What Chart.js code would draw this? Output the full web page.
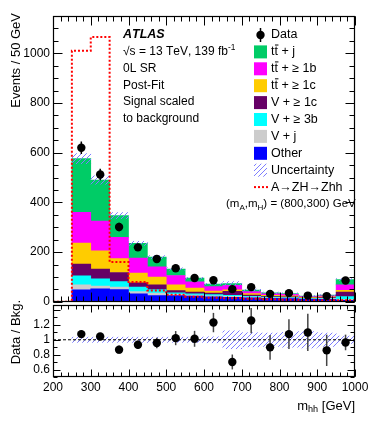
<!DOCTYPE html>
<html>
<head>
<meta charset="utf-8">
<style>
  html, body { margin: 0; padding: 0; background: #fff; }
  #wrap { position: relative; width: 374px; height: 421px; overflow: hidden; }
  canvas { position: absolute; left: 0; }
  #cMain { top: 0; }
  #cRatio { top: 290px; }
</style>
<script src="https://cdn.jsdelivr.net/npm/chart.js@4.4.1/dist/chart.umd.min.js"></script>
</head>
<body>
<div id="wrap">
  <canvas id="cMain" width="374" height="312"></canvas>
  <canvas id="cRatio" width="374" height="131"></canvas>
</div>
<script>
// m_hh bin centres (50 GeV bins from 250 to 1000 GeV)
const massBins = [275, 325, 375, 425, 475, 525, 575, 625, 675, 725, 775, 825, 875, 925, 975];

// post-fit background components, events / 50 GeV
const bkgOther = [48, 52, 49, 32, 25, 25, 23, 20, 18, 16, 14, 13, 10, 10, 6];
const bkgVj    = [20, 11, 10, 9, 10, 5, 4, 4, 4, 3, 2, 2, 1, 2, 3];
const bkgV3b   = [36, 29, 22, 18, 14, 6, 5, 5, 4, 3, 3, 2, 2, 2, 12];
const bkgV1c   = [48, 40, 37, 17, 19, 9, 7, 6, 16, 5, 3, 3, 2, 3, 18];
const bkgTt1c  = [84, 73, 56, 40, 31, 23, 16, 8, 6, 6, 4, 4, 3, 3, 7];
const bkgTt1b  = [124, 120, 85, 60, 42, 38, 25, 18, 18, 8, 6, 6, 3, 4, 22];
const bkgTtj   = [216, 165, 88, 59, 39, 26, 15, 10, 7, 6, 4, 3, 2, 3, 21];

// relative background uncertainty per bin
const bkgUnc = [0.035, 0.035, 0.035, 0.035, 0.035, 0.035, 0.035, 0.04, 0.12, 0.095, 0.09, 0.1, 0.11, 0.09, 0.05];

// observed data
const dataVals = [620, 512, 301, 219, 172, 135, 96, 87, 51, 59, 32, 35, 25, 23, 86];
const dataErr  = [25, 23, 17, 15, 13, 12, 10, 9, 7, 8, 6, 6, 5, 5, 9];

// data / background
const ratioVals = [1.076, 1.044, 0.867, 0.933, 0.956, 1.022, 1.013, 1.231, 0.702, 1.258, 0.898, 1.076, 1.098, 0.858, 0.964];
const ratioErr  = [0.04, 0.045, 0.055, 0.058, 0.07, 0.095, 0.107, 0.13, 0.1, 0.17, 0.167, 0.2, 0.25, 0.21, 0.105];

// signal A->ZH->Zhh (scaled to background), bin edges 200..1000
const sigEdges = [200, 250, 300, 350, 400, 450, 500, 550, 600, 650, 700, 750, 800, 850, 900, 950, 1000];
const sigVals  = [0, 1010, 1065, 160, 80, 45, 28, 20, 16, 14, 12, 10, 8, 6, 6, 6];

// axis ticks
const xTicks = [200, 300, 400, 500, 600, 700, 800, 900, 1000];
const yMainTicks = [0, 200, 400, 600, 800, 1000];
const yRatioTicks = [0.6, 0.8, 1, 1.2];

const FONT = '"Liberation Sans", Arial, Helvetica, sans-serif';
Chart.defaults.font.family = FONT;
Chart.defaults.color = '#000';

const series = [
  { label: 'Other', vals: bkgOther, color: '#0000ff' },
  { label: 'V + j', vals: bkgVj, color: '#cccccc' },
  { label: 'V + \u2265 3b', vals: bkgV3b, color: '#00ffff' },
  { label: 'V + \u2265 1c', vals: bkgV1c, color: '#660066' },
  { label: 'tt\u0304 + \u2265 1c', vals: bkgTt1c, color: '#ffcc00' },
  { label: 'tt\u0304 + \u2265 1b', vals: bkgTt1b, color: '#ff00ff' },
  { label: 'tt\u0304 + j', vals: bkgTtj, color: '#00cc66' }
];

const totals = massBins.map((_, j) => series.reduce((s, c) => s + c.vals[j], 0));

function makeHatch(canvas) {
  const c = document.createElement('canvas');
  c.width = 5; c.height = 5;
  const g = c.getContext('2d');
  g.strokeStyle = '#7d7dff';
  g.lineWidth = 1;
  g.beginPath();
  g.moveTo(0, 5); g.lineTo(5, 0);
  g.moveTo(-1, 1); g.lineTo(1, -1);
  g.moveTo(4, 6); g.lineTo(6, 4);
  g.stroke();
  return canvas.getContext('2d').createPattern(c, 'repeat');
}

// text with t-bar (combining macron), _{sub} and ^{sup}
function richText(ctx, str, x, y, size, weight) {
  const parts = [];
  const re = /_\{([^}]*)\}|\^\{([^}]*)\}|([^_^]+)/g;
  let m;
  while ((m = re.exec(str))) {
    if (m[1] !== undefined) parts.push({ t: m[1], mode: 'sub' });
    else if (m[2] !== undefined) parts.push({ t: m[2], mode: 'sup' });
    else parts.push({ t: m[3], mode: '' });
  }
  let cx = x;
  ctx.textAlign = 'left';
  ctx.textBaseline = 'middle';
  for (const p of parts) {
    const s = p.mode ? size * 0.7 : size;
    const dy = p.mode === 'sub' ? size * 0.3 : p.mode === 'sup' ? -size * 0.35 : 0;
    ctx.font = (weight || '') + ' ' + s + 'px ' + FONT;
    const chars = Array.from(p.t);
    for (let i = 0; i < chars.length; i++) {
      if (chars[i] === '\u0304') continue;
      const w = ctx.measureText(chars[i]).width;
      ctx.fillText(chars[i], cx, y + dy);
      if (chars[i + 1] === '\u0304') {
        ctx.save();
        ctx.lineWidth = 1;
        ctx.beginPath();
        ctx.moveTo(cx + 0.5, y + dy - s * 0.55);
        ctx.lineTo(cx + w + 0.5, y + dy - s * 0.55);
        ctx.stroke();
        ctx.restore();
      }
      cx += w;
    }
  }
  return cx;
}

function range(a, b, step) {
  const out = [];
  for (let v = a; v <= b + 1e-9; v += step) out.push(+v.toFixed(6));
  return out;
}

function drawFrame(chart, cfg) {
  const { ctx, chartArea: a, scales: { x, y } } = chart;
  ctx.save();
  ctx.strokeStyle = '#000';
  ctx.lineWidth = 1;
  ctx.beginPath();
  const L = Math.round(a.left) + 0.5, R = Math.round(a.right) - 0.5;
  const T = Math.round(a.top) + 0.5, B = Math.round(a.bottom) - 0.5;
  const tickX = (v, len) => {
    const px = Math.round(x.getPixelForValue(v)) + 0.5;
    ctx.moveTo(px, B); ctx.lineTo(px, B - len);
    ctx.moveTo(px, T); ctx.lineTo(px, T + len);
  };
  const tickY = (v, len) => {
    const py = Math.round(y.getPixelForValue(v)) + 0.5;
    ctx.moveTo(L, py); ctx.lineTo(L + len, py);
    ctx.moveTo(R, py); ctx.lineTo(R - len, py);
  };
  cfg.xMinor.forEach(v => tickX(v, cfg.xMinLen));
  cfg.xMajor.forEach(v => tickX(v, cfg.xMajLen));
  cfg.yMinor.forEach(v => tickY(v, cfg.yMinLen));
  cfg.yMajor.forEach(v => tickY(v, cfg.yMajLen));
  ctx.stroke();
  ctx.lineWidth = 1.2;
  ctx.strokeRect(L, T, R - L, B - T);
  ctx.restore();
}

// ---------- main panel ----------
const mainCanvas = document.getElementById('cMain');
const hatchMain = makeHatch(mainCanvas);

const bkgDatasets = series.map((s, i) => ({
  type: 'bar',
  label: s.label,
  data: massBins.map((m, j) => ({ x: m, y: s.vals[j] })),
  backgroundColor: s.color,
  borderWidth: 0,
  stack: 'bkg',
  order: 10 + i,
  barPercentage: 1,
  categoryPercentage: 1
}));

const mainFrame = {
  id: 'mainFrame',
  afterDraw(chart) {
    drawFrame(chart, {
      xMajor: xTicks, xMinor: range(200, 1000, 20), xMajLen: 9, xMinLen: 5,
      yMajor: yMainTicks, yMinor: range(0, 1150, 50), yMajLen: 9, yMinLen: 5
    });
    const ctx = chart.ctx;
    ctx.save();
    ctx.fillStyle = '#000';
    ctx.strokeStyle = '#000';
    // y title
    ctx.save();
    ctx.translate(16, 13);
    ctx.rotate(-Math.PI / 2);
    ctx.textAlign = 'right';
    ctx.textBaseline = 'middle';
    ctx.font = '13px ' + FONT;
    ctx.fillText('Events / 50 GeV', 0, 0);
    ctx.restore();

    // labels block
    const tx = 123, rows = [35, 52, 69, 86, 102, 119];
    richText(ctx, 'ATLAS', tx, rows[0], 12.5, 'bold italic');
    richText(ctx, '\u221As = 13 TeV, 139 fb^{-1}', tx, rows[1], 12);
    richText(ctx, '0L SR', tx, rows[2], 12);
    richText(ctx, 'Post-Fit', tx, rows[3], 12);
    richText(ctx, 'Signal scaled', tx, rows[4], 12);
    richText(ctx, 'to background', tx, rows[5], 12);

    // legend
    const bx = 254, bw = 13, lx = 271, ly0 = 35, dy = 16.9;
    let ly = ly0;
    ctx.beginPath();
    ctx.arc(bx + bw / 2, ly, 4.2, 0, Math.PI * 2);
    ctx.fill();
    ctx.lineWidth = 1.5;
    ctx.beginPath();
    ctx.moveTo(bx + bw / 2, ly - 7); ctx.lineTo(bx + bw / 2, ly + 7);
    ctx.stroke();
    richText(ctx, 'Data', lx, ly, 12.5);
    for (let i = series.length - 1; i >= 0; i--) {
      ly += dy;
      ctx.fillStyle = series[i].color;
      ctx.fillRect(bx, ly - 6.5, bw, 13);
      ctx.fillStyle = '#000';
      richText(ctx, series[i].label, lx, ly, 12.5);
    }
    ly += dy;
    ctx.fillStyle = hatchMain;
    ctx.fillRect(bx, ly - 6.5, bw, 13);
    ctx.fillStyle = '#000';
    richText(ctx, 'Uncertainty', lx, ly, 12.5);
    ly += dy;
    ctx.save();
    ctx.strokeStyle = '#ff0000';
    ctx.lineWidth = 2;
    ctx.setLineDash([2, 2]);
    ctx.beginPath();
    ctx.moveTo(bx, ly); ctx.lineTo(bx + bw + 1, ly);
    ctx.stroke();
    ctx.restore();
    richText(ctx, 'A\u2192ZH\u2192Zhh', lx, ly, 12.5);
    ly += dy;
    richText(ctx, '(m_{A},m_{H}) = (800,300) GeV', 226, ly, 11.5);
    ctx.restore();
  }
};

new Chart(mainCanvas, {
  type: 'bar',
  data: {
    datasets: [
      {
        type: 'line',
        label: 'Data',
        data: massBins.map((m, j) => ({ x: m, y: dataVals[j] })),
        showLine: false,
        pointRadius: 4.2,
        pointBackgroundColor: '#000',
        pointBorderWidth: 0,
        stack: 'pts',
        order: 0
      },
      {
        type: 'bar',
        label: 'Data error',
        data: massBins.map((m, j) => ({ x: m, y: [dataVals[j] - dataErr[j], dataVals[j] + dataErr[j]] })),
        backgroundColor: '#000',
        grouped: false,
        maxBarThickness: 1.5,
        stack: 'err',
        order: 1
      },
      {
        type: 'line',
        label: 'A\u2192ZH\u2192Zhh',
        data: sigEdges.map((e, i) => ({ x: e, y: sigVals[Math.min(i, sigVals.length - 1)] })),
        stepped: 'before',
        borderColor: '#ff0000',
        borderWidth: 2,
        borderDash: [2, 2],
        pointRadius: 0,
        fill: false,
        stack: 'sig',
        order: 2
      },
      {
        type: 'bar',
        label: 'Uncertainty',
        data: massBins.map((m, j) => ({ x: m, y: [totals[j] * (1 - bkgUnc[j]), totals[j] * (1 + bkgUnc[j])] })),
        backgroundColor: hatchMain,
        borderWidth: 0,
        grouped: false,
        barPercentage: 1,
        categoryPercentage: 1,
        stack: 'unc',
        order: 3
      },
      ...bkgDatasets
    ]
  },
  options: {
    responsive: false,
    animation: false,
    devicePixelRatio: 1,
    layout: { padding: { left: 0, right: 19, top: 16, bottom: 8 } },
    plugins: { legend: { display: false }, tooltip: { enabled: false } },
    scales: {
      x: {
        type: 'linear', min: 200, max: 1000, display: false, offset: false,
        ticks: { stepSize: 100 }
      },
      y: {
        stacked: true, min: 0, max: 1150,
        grid: { display: false, drawTicks: false }, border: { display: false },
        ticks: { font: { size: 12 }, padding: 3, color: '#000', callback: v => String(v) },
        afterBuildTicks: s => { s.ticks = yMainTicks.map(v => ({ value: v })); },
        afterFit: s => { s.width = 53; }
      }
    }
  },
  plugins: [mainFrame]
});

// ---------- ratio panel ----------
const ratioCanvas = document.getElementById('cRatio');
const hatchRatio = makeHatch(ratioCanvas);

const ratioFrame = {
  id: 'ratioFrame',
  afterDraw(chart) {
    drawFrame(chart, {
      xMajor: xTicks, xMinor: range(200, 1000, 20), xMajLen: 7, xMinLen: 4,
      yMajor: [0.6, 0.8, 1, 1.2, 1.4], yMinor: range(0.5, 1.4, 0.1), yMajLen: 7, yMinLen: 4
    });
    const ctx = chart.ctx;
    ctx.save();
    ctx.fillStyle = '#000';
    ctx.translate(16, 10);
    ctx.rotate(-Math.PI / 2);
    ctx.textAlign = 'right';
    ctx.textBaseline = 'middle';
    ctx.font = '13px ' + FONT;
    ctx.fillText('Data / Bkg.', 0, 0);
    ctx.restore();
    // x title, right aligned to frame
    ctx.save();
    ctx.fillStyle = '#000';
    ctx.font = '13px ' + FONT;
    const w1 = ctx.measureText('m').width, w3 = ctx.measureText(' [GeV]').width;
    ctx.font = '9.1px ' + FONT;
    const w2 = ctx.measureText('hh').width;
    richText(ctx, 'm_{hh} [GeV]', chart.chartArea.right - (w1 + w2 + w3), 116, 13);
    ctx.restore();
  }
};

new Chart(ratioCanvas, {
  type: 'bar',
  data: {
    datasets: [
      {
        type: 'line',
        label: 'Data / Bkg.',
        data: massBins.map((m, j) => ({ x: m, y: ratioVals[j] })),
        showLine: false,
        pointRadius: 4.2,
        pointBackgroundColor: '#000',
        pointBorderWidth: 0,
        order: 0
      },
      {
        type: 'bar',
        label: 'Ratio error',
        data: massBins.map((m, j) => ({ x: m, y: [ratioVals[j] - ratioErr[j], ratioVals[j] + ratioErr[j]] })),
        backgroundColor: '#444',
        grouped: false,
        maxBarThickness: 1.5,
        order: 1
      },
      {
        type: 'line',
        label: 'unity',
        data: [{ x: 200, y: 1 }, { x: 1000, y: 1 }],
        borderColor: '#000',
        borderWidth: 1,
        borderDash: [3, 2],
        pointRadius: 0,
        order: 2
      },
      {
        type: 'bar',
        label: 'Uncertainty',
        data: massBins.map((m, j) => ({ x: m, y: [1 - bkgUnc[j], 1 + bkgUnc[j]] })),
        backgroundColor: hatchRatio,
        borderWidth: 0,
        grouped: false,
        barPercentage: 1,
        categoryPercentage: 1,
        order: 3
      }
    ]
  },
  options: {
    responsive: false,
    animation: false,
    devicePixelRatio: 1,
    layout: { padding: { left: 0, right: 19, top: 15, bottom: 0 } },
    plugins: { legend: { display: false }, tooltip: { enabled: false } },
    scales: {
      x: {
        type: 'linear', min: 200, max: 1000, offset: false,
        grid: { display: false, drawTicks: false }, border: { display: false },
        ticks: { stepSize: 100, font: { size: 12 }, padding: 3, color: '#000', maxRotation: 0, callback: v => String(v) },
        afterBuildTicks: s => { s.ticks = xTicks.map(v => ({ value: v })); },
        afterFit: s => { s.height = 44; }
      },
      y: {
        min: 0.5, max: 1.467,
        grid: { display: false, drawTicks: false }, border: { display: false },
        ticks: { font: { size: 12 }, padding: 3, color: '#000', callback: v => String(v) },
        afterBuildTicks: s => { s.ticks = yRatioTicks.map(v => ({ value: v })); },
        afterFit: s => { s.width = 53; }
      }
    }
  },
  plugins: [ratioFrame]
});
</script>
</body>
</html>
